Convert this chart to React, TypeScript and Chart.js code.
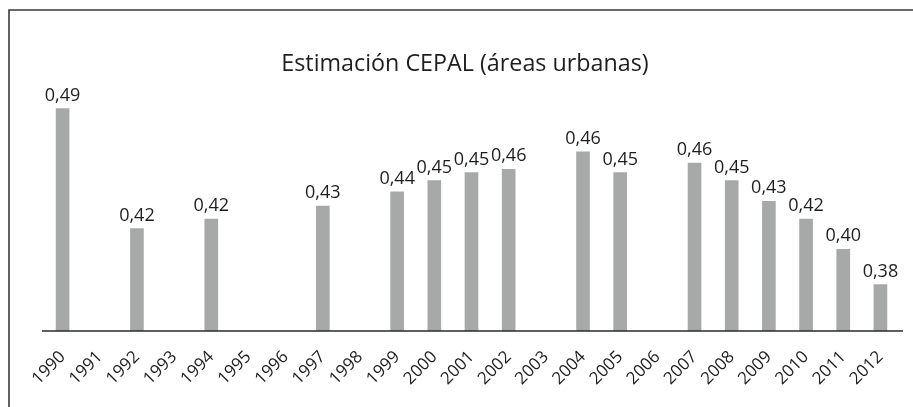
import React, { useEffect, useRef } from "react";
import { Chart, registerables } from "chart.js";

Chart.register(...registerables);

const years = [
  "1990", "1991", "1992", "1993", "1994", "1995", "1996", "1997", "1998", "1999", "2000",
  "2001", "2002", "2003", "2004", "2005", "2006", "2007", "2008", "2009", "2010", "2011", "2012",
];
const values: (number | null)[] = [
  0.489, null, 0.414, null, 0.42, null, null, 0.428, null, 0.437, 0.444,
  0.449, 0.451, null, 0.462, 0.449, null, 0.455, 0.444, 0.431, 0.42, 0.401, 0.379,
];
const valueLabels = [
  "0,49", "", "0,42", "", "0,42", "", "", "0,43", "", "0,44", "0,45",
  "0,45", "0,46", "", "0,46", "0,45", "", "0,46", "0,45", "0,43", "0,42", "0,40", "0,38",
];
const titleText = "Estimación CEPAL (áreas urbanas)";
const yMin = 0.35;
const yMax = 0.5;

const FONT = "'Open Sans', 'DejaVu Sans', sans-serif";

const framePlugin = {
  id: "frame",
  beforeDraw(chart: any) {
    const ctx = chart.ctx;
    ctx.save();
    ctx.fillStyle = "#ffffff";
    ctx.fillRect(0, 0, chart.width, chart.height);
    ctx.strokeStyle = "#3a3a3a";
    ctx.lineWidth = 1.6;
    ctx.beginPath();
    ctx.moveTo(9, chart.height + 5);
    ctx.lineTo(9, 10);
    ctx.lineTo(chart.width + 5, 10);
    ctx.stroke();
    // title
    ctx.fillStyle = "#1e1e1e";
    ctx.font = `23.3px ${FONT}`;
    ctx.textAlign = "center";
    ctx.textBaseline = "alphabetic";
    ctx.fillText(titleText, 465, 71);
    ctx.restore();
  },
  afterDatasetsDraw(chart: any) {
    const ctx = chart.ctx;
    const area = chart.chartArea;
    ctx.save();
    // axis line
    ctx.strokeStyle = "#2a2a2a";
    ctx.lineWidth = 1.5;
    ctx.beginPath();
    ctx.moveTo(area.left - 2, area.bottom);
    ctx.lineTo(area.right + 4, area.bottom);
    ctx.stroke();
    // value labels
    const meta = chart.getDatasetMeta(0);
    ctx.fillStyle = "#1e1e1e";
    ctx.font = `18px ${FONT}`;
    ctx.textAlign = "center";
    ctx.textBaseline = "alphabetic";
    meta.data.forEach((bar: any, i: number) => {
      if (values[i] == null) return;
      ctx.fillText(valueLabels[i], bar.x, bar.y - 8);
    });
    ctx.restore();
  },
};

export default function App() {
  const ref = useRef<HTMLCanvasElement | null>(null);
  useEffect(() => {
    if (!ref.current) return;
    const chart = new Chart(ref.current, {
      type: "bar",
      data: {
        labels: years,
        datasets: [
          {
            data: values as any,
            backgroundColor: "#a7a9a9",
            borderWidth: 0,
            barThickness: 13,
          },
        ],
      },
      options: {
        animation: false,
        responsive: false,
        events: [],
        layout: { padding: { top: 91, left: 44, right: 14, bottom: 0 } },
        plugins: {
          legend: { display: false },
          title: { display: false },
          tooltip: { enabled: false },
        },
        scales: {
          x: {
            grid: { display: false, drawTicks: false },
            border: { display: false },
            ticks: {
              autoSkip: false,
              maxRotation: 45,
              minRotation: 45,
              color: "#1e1e1e",
              padding: 16,
              font: { size: 17, family: FONT },
            },
            afterFit(scale: any) {
              scale.height = 76;
            },
          },
          y: {
            display: false,
            min: yMin,
            max: yMax,
          },
        },
      },
      plugins: [framePlugin],
    });
    return () => chart.destroy();
  }, []);
  return (
    <div style={{ position: "absolute", left: 0, top: 0, width: 913, height: 407 }}>
      <canvas ref={ref} width={913} height={407} style={{ display: "block" }} />
    </div>
  );
}
